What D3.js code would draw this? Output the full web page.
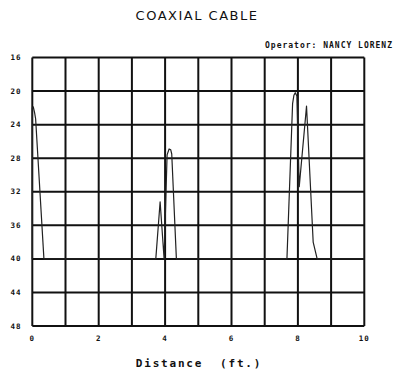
<!DOCTYPE html>
<html>
<head>
<meta charset="utf-8">
<script src="https://cdn.jsdelivr.net/npm/d3@7"></script>
<style>
  html, body { margin: 0; padding: 0; background: #fff; }
  svg { display: block; }
</style>
</head>
<body>
<svg id="chart" width="397" height="369"></svg>
<script>
const title = "COAXIAL CABLE";
const operatorLabel = "Operator: NANCY LORENZ";
const xLabel = "Distance  (ft.)";
const xTicks = [0, 2, 4, 6, 8, 10];
const xGrid = [0, 1, 2, 3, 4, 5, 6, 7, 8, 9, 10];
const yTicks = [16, 20, 24, 28, 32, 36, 40, 44, 48];
const distance = [0, 0, 0.03, 0.07, 0.1, 0.35,
  3.72, 3.85, 3.97,
  4.06, 4.12, 4.17, 4.2, 4.34,
  7.67, 7.84, 7.88, 7.92, 7.97, 8.04, 8.26, 8.46, 8.58, 10];
const amplitude = [40, 22.0, 21.9, 22.6, 23.3, 40,
  40, 33.2, 40,
  27.6, 26.9, 27.0, 27.5, 40,
  40, 21.5, 20.5, 20.2, 20.6, 31.4, 21.8, 38, 40, 40];

const svg = d3.select("#chart");
const L = 32.3, R = 364.3, T = 57.5, B = 326;
const x = d3.scaleLinear().domain([0, 10]).range([L, R]);
const y = d3.scaleLinear().domain([16, 48]).range([T, B]);

const ink = "#111";

// grid
const g = svg.append("g");
g.selectAll("line.h").data(yTicks).join("line")
  .attr("x1", L).attr("x2", R)
  .attr("y1", d => y(d)).attr("y2", d => y(d))
  .attr("stroke", ink).attr("stroke-width", 2);
g.selectAll("line.v").data(xGrid).join("line")
  .attr("y1", T).attr("y2", B)
  .attr("x1", d => x(d)).attr("x2", d => x(d))
  .attr("stroke", ink).attr("stroke-width", 2);

// trace
const pts = distance.map((d, i) => [d, amplitude[i]]);
svg.append("path")
  .attr("d", d3.line().x(d => x(d[0])).y(d => y(d[1]))(pts))
  .attr("fill", "none").attr("stroke", "#222").attr("stroke-width", 1.2)
  .attr("stroke-linejoin", "round");

// y labels
svg.append("g").selectAll("text").data(yTicks).join("text")
  .attr("x", 16).attr("y", d => y(d))
  .attr("text-anchor", "middle").attr("dominant-baseline", "central")
  .attr("font-family", "DejaVu Sans Mono").attr("font-weight", "bold")
  .attr("font-size", 7.5).attr("letter-spacing", 1).attr("fill", ink)
  .text(d => d);

// x labels
svg.append("g").selectAll("text").data(xTicks).join("text")
  .attr("x", d => x(d)).attr("y", 338)
  .attr("text-anchor", "middle").attr("dominant-baseline", "central")
  .attr("font-family", "DejaVu Sans Mono").attr("font-weight", "bold")
  .attr("font-size", 7.5).attr("letter-spacing", 1).attr("fill", ink)
  .text(d => d);

// title
svg.append("text").attr("x", 197).attr("y", 15)
  .attr("text-anchor", "middle").attr("dominant-baseline", "central")
  .attr("font-family", "DejaVu Sans").attr("font-size", 13)
  .attr("letter-spacing", 1.5).attr("fill", ink)
  .text(title);

// operator
svg.append("text").attr("x", 393).attr("y", 45)
  .attr("text-anchor", "end").attr("dominant-baseline", "central")
  .attr("font-family", "DejaVu Sans Mono").attr("font-weight", "bold")
  .attr("font-size", 8).attr("letter-spacing", 1).attr("fill", ink)
  .text(operatorLabel);

// x axis title
svg.append("text").attr("x", 199).attr("y", 363)
  .attr("text-anchor", "middle").attr("dominant-baseline", "central")
  .attr("font-family", "DejaVu Sans Mono").attr("font-weight", "bold")
  .attr("font-size", 11).attr("letter-spacing", 1.8).attr("fill", ink)
  .attr("xml:space", "preserve").style("white-space", "pre")
  .text(xLabel);
</script>
</body>
</html>
